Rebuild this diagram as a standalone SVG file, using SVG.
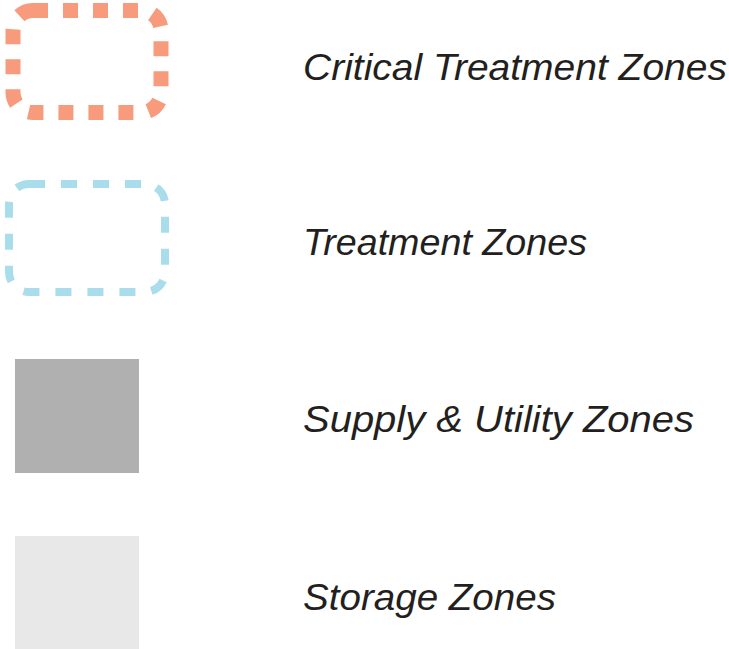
<svg xmlns="http://www.w3.org/2000/svg" width="729" height="649" viewBox="0 0 729 649">
<style>
.lbl{font-family:"Liberation Sans","DejaVu Sans",sans-serif;font-style:italic;font-size:36px;fill:#231f20}
.crit{fill:none;stroke:#F79B7C;stroke-width:15;stroke-dasharray:15 15}
.treat{fill:none;stroke:#A9DDEC;stroke-width:8;stroke-dasharray:16 16}
</style>
<rect width="729" height="649" fill="#fff"/>
<g id="critical">
<rect class="crit" x="13" y="10.5" width="148" height="102" rx="20"/>
<text class="lbl" x="303" y="80" textLength="424" lengthAdjust="spacingAndGlyphs">Critical Treatment Zones</text>
</g>
<g id="treatment">
<rect class="treat" x="9" y="184" width="156" height="108" rx="20"/>
<text class="lbl" x="303" y="255" textLength="284" lengthAdjust="spacingAndGlyphs">Treatment Zones</text>
</g>
<g id="supply">
<rect x="15" y="359" width="124" height="114" fill="#B1B0B0"/>
<text class="lbl" x="303" y="432" textLength="391" lengthAdjust="spacingAndGlyphs">Supply &amp; Utility Zones</text>
</g>
<g id="storage">
<rect x="15" y="536" width="124" height="113" fill="#E8E8E8"/>
<text class="lbl" x="303" y="610" textLength="253" lengthAdjust="spacingAndGlyphs">Storage Zones</text>
</g>
<g id="connectors"/>
</svg>
